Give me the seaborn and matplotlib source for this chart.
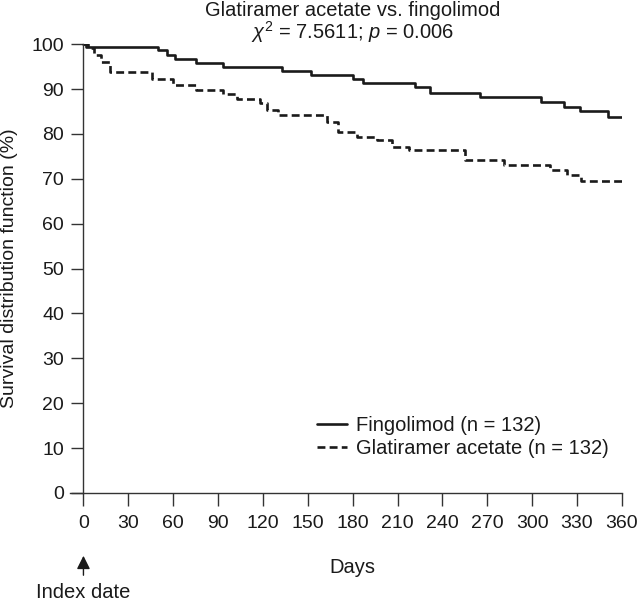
import numpy as np
import pandas as pd
import matplotlib
matplotlib.use("Agg")
import matplotlib.pyplot as plt
import seaborn as sns

# Kaplan-Meier step points
fingo_days = [0, 2, 50, 56, 61, 75, 93, 133, 152, 180, 187, 222, 232, 265, 306, 321, 332, 351, 360]
fingo_surv = [100, 99.3, 98.7, 97.7, 96.7, 95.8, 94.9, 94.0, 93.1, 92.3, 91.3, 90.4, 89.2, 88.2,
              87.1, 86.0, 85.1, 83.8, 83.8]
glat_days = [0, 3, 7, 12, 18, 46, 60, 75, 93, 103, 118, 123, 130, 163, 170, 183, 196, 206, 218,
             255, 281, 312, 323, 333, 360]
glat_surv = [100, 99.1, 97.5, 96.0, 93.8, 92.3, 90.9, 89.8, 89.0, 87.9, 86.8, 85.3, 84.2, 82.7,
             80.5, 79.4, 78.6, 77.1, 76.4, 74.2, 73.0, 71.9, 70.8, 69.6, 69.6]
groups = ["Fingolimod (n = 132)", "Glatiramer acetate (n = 132)"]
x_ticks = list(range(0, 361, 30))
y_ticks = list(range(0, 101, 10))

df = pd.concat([
    pd.DataFrame({"day": fingo_days, "surv": fingo_surv, "group": groups[0]}),
    pd.DataFrame({"day": glat_days, "surv": glat_surv, "group": groups[1]}),
])

sns.set_style("ticks")
plt.rcParams["font.family"] = ["Liberation Sans", "DejaVu Sans"]
plt.rcParams["mathtext.fontset"] = "custom"
plt.rcParams["mathtext.rm"] = "Liberation Sans"
plt.rcParams["mathtext.it"] = "Liberation Sans:italic"

fs = 14.5
fig = plt.figure(figsize=(6.38, 6.04), dpi=100)
ax = fig.add_axes([0.1097, 0.1838, 0.865, 0.743])

sns.lineplot(data=df, x="day", y="surv", hue="group", style="group",
             palette=["#1a1a1a", "#1a1a1a"], dashes={groups[0]: "", groups[1]: (3, 1.6)},
             drawstyle="steps-post", estimator=None, sort=False, linewidth=1.9, ax=ax)

ax.set_xlim(-9, 360)
ax.set_ylim(0, 100)
ax.spines["left"].set_position(("data", 0))
ax.spines["top"].set_visible(False)
ax.spines["right"].set_visible(False)
for s in ["left", "bottom"]:
    ax.spines[s].set_color("#333333")
    ax.spines[s].set_linewidth(1.0)
ax.set_xticks(x_ticks)
ax.set_yticks(y_ticks)
ax.tick_params(axis="both", direction="out", length=9, width=1.0, color="#333333",
               labelsize=14, labelcolor="#1a1a1a")
ax.tick_params(axis="y", pad=5)
ax.tick_params(axis="x", pad=7)

ax.set_xlabel("Days", fontsize=fs, color="#1a1a1a")
ax.set_ylabel("Survival distribution function (%)", fontsize=14, color="#1a1a1a")
ax.xaxis.set_label_coords(0.511, -0.145)
ax.yaxis.set_label_coords(-0.095, 0.5)

leg = ax.legend(loc="lower right", bbox_to_anchor=(0.99, 0.06), frameon=False, fontsize=fs,
                handlelength=1.5, handletextpad=0.4, labelspacing=0.2, borderaxespad=0)
for t in leg.get_texts():
    t.set_color("#1a1a1a")

fig.text(0.553, 0.983, "Glatiramer acetate vs. fingolimod", ha="center", va="center",
         fontsize=fs, color="#1a1a1a")
fig.text(0.553, 0.947, r"$\chi^2$ = 7.5611; $p$ = 0.006", ha="center", va="center",
         fontsize=fs, color="#1a1a1a")

# index date arrow
ax.annotate("", xy=(0, 51), xycoords=("data", "figure pixels"),
            xytext=(0, 26), textcoords=("data", "figure pixels"),
            arrowprops=dict(arrowstyle="-|>", color="#1a1a1a", lw=1.0, mutation_scale=20))
ax.annotate("Index date", xy=(0, 11), xycoords=("data", "figure pixels"),
            ha="center", va="center", fontsize=fs, color="#1a1a1a", annotation_clip=False)

fig.savefig("out.png", dpi=100)
